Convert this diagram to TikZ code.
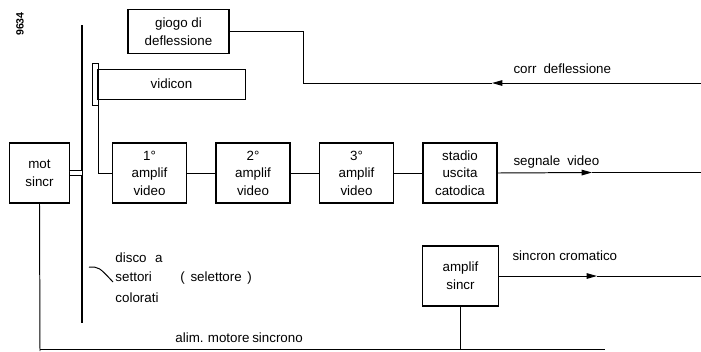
\documentclass[tikz,border=0pt]{standalone}
\usepackage{fontspec}
\setmainfont{Liberation Sans}
\usetikzlibrary{arrows.meta}
\begin{document}
\begin{tikzpicture}[x=0.025cm, y=-0.025cm, line width=0.7pt,
  font=\fontsize{9.5}{12.5}\selectfont,
  blk/.style={draw, line width=0.85pt, inner sep=0pt, align=center,
    minimum width=1.85cm, minimum height=1.5cm},
  lbl/.style={anchor=base west, inner sep=0pt},
  sig/.style={-{Triangle[length=2.6mm, width=1.4mm]}}]
  \useasboundingbox (0,0) rectangle (701,351);
  % 블록 (픽셀 좌표: x 오른쪽, y 아래쪽)
  \node[blk, minimum width=2.52cm, minimum height=1.08cm] (giogo) at (178.5,31.5) {giogo di\\deflessione};
  \node[blk, line width=0.7pt, minimum width=3.68cm, minimum height=0.75cm] (vidicon) at (171.5,84) {vidicon};
  \node[blk, line width=0.7pt, minimum width=0.15cm, minimum height=1.05cm] (tubo) at (95,84) {};
  \node[blk, minimum width=1.48cm] (mot) at (39.5,173) {mot\\sincr};
  \node[blk] (amp1) at (149.5,173) {1°\\amplif\\video};
  \node[blk] (amp2) at (253,173) {2°\\amplif\\video};
  \node[blk] (amp3) at (356.5,173) {3°\\amplif\\video};
  \node[blk] (stadio) at (460,173) {stadio\\uscita\\catodica};
  \node[blk, minimum width=1.88cm] (sincr) at (460.5,276) {amplif\\sincr};
  % 끝점
  \coordinate (discoT) at (82,25); \coordinate (discoB) at (82,323);
  \coordinate (corrR) at (701,83); \coordinate (corrA) at (492,83);
  \coordinate (videoR) at (701,172.5); \coordinate (videoA) at (592,172.5);
  \coordinate (cromR) at (701,276); \coordinate (cromA) at (597,276);
  \coordinate (alimL) at (40,349.5); \coordinate (alimR) at (605,349.5);
  \coordinate (motB) at (40,351);
  \coordinate (frecciaA) at (89,267); \coordinate (frecciaB) at (113,282);
  % 디스크
  \draw[line width=2.1pt] (discoT) -- (discoB);
  \draw[double, double distance=0.1cm, line width=0.6pt] (mot.east) -- (mot.east -| discoT);
  % 연결선
  \draw[sig] (corrR) -- (corrA);
  \draw (corrA) -- (303,83) |- (giogo.east);
  \draw (tubo.south east) |- (amp1.west);
  \draw (amp1) -- (amp2); \draw (amp2) -- (amp3); \draw (amp3) -- (stadio);
  \draw[sig] (stadio.east) -- (videoA); \draw (videoA) -- (videoR);
  \draw[sig] (sincr.east |- cromR) -- (cromA); \draw (cromA) -- (cromR);
  \draw (mot.south) -- (motB);
  \draw (alimL) -- (alimR);
  \draw (sincr.south) -- (sincr.south |- alimL);
  \draw (frecciaA) .. controls (99,267) .. (frecciaB);
  % 글자
  \node[lbl] (tcorr) at (513,73) {corr\hspace{5pt}deflessione};
  \node[lbl] (tvideo) at (513,165) {segnale\hspace{5pt}video};
  \node[lbl] (tcrom) at (512,260) {sincron cromatico};
  \node[lbl] (talim) at (175,342) {alim.\hspace{3pt}motore\hspace{2pt}sincrono};
  \node[lbl] (tdisco1) at (115,262) {disco\hspace{6pt}a};
  \node[lbl] (tdisco2) at (115,281) {settori};
  \node[lbl] (tsel) at (180,281) {(\hspace{4pt}selettore\hspace{4pt})};
  \node[lbl] (tdisco3) at (115,302) {colorati};
  \node[rotate=90, inner sep=0pt, font=\fontsize{7.5}{8}\selectfont\bfseries] (tfig) at (20,24) {9634};
\end{tikzpicture}
\end{document}
